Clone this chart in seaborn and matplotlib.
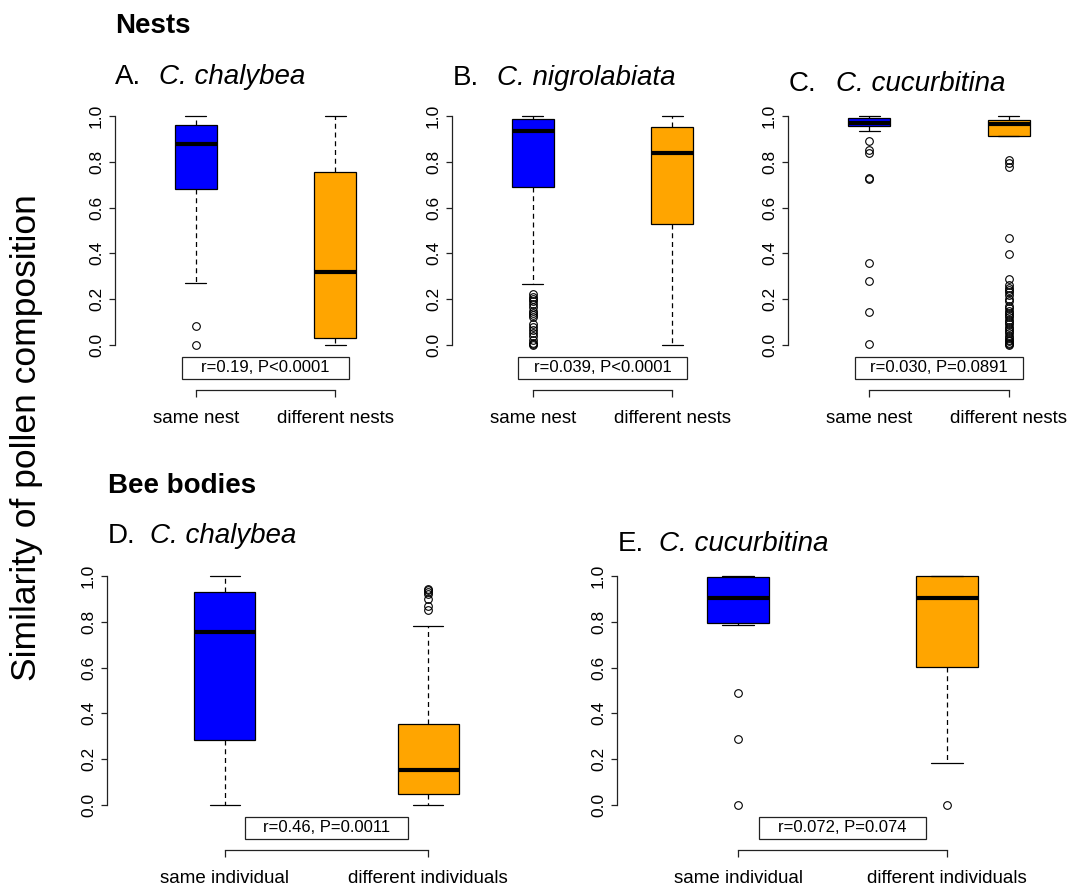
import matplotlib
matplotlib.use("Agg")
import matplotlib.pyplot as plt
import seaborn as sns
import pandas as pd
from matplotlib.patches import Rectangle

# figure size in pixels (dpi 100)
W, H = 1084, 888

nest_labels = ["same nest", "different nests"]
body_labels = ["same individual", "different individuals"]
box_colors = ["#0000FF", "#FFA500"]

# boxes: lower whisker, Q1, median, Q3, upper whisker
# plus the outlying points drawn as open circles

# A. C. chalybea, nests
a_same_box = [0.272, 0.680, 0.878, 0.961, 1.000]
a_same_out = [0.000, 0.083]
a_diff_box = [0.000, 0.028, 0.320, 0.755, 1.000]
a_diff_out = []

# B. C. nigrolabiata, nests
b_same_box = [0.265, 0.691, 0.934, 0.987, 1.000]
b_same_out = [0.000, 0.005, 0.010, 0.020, 0.040, 0.050, 0.065, 0.080, 0.090,
              0.120, 0.130, 0.140, 0.150, 0.165, 0.180, 0.190, 0.200, 0.210, 0.222]
b_diff_box = [0.000, 0.527, 0.838, 0.951, 1.000]
b_diff_out = []

# C. C. cucurbitina, nests
c_same_box = [0.936, 0.955, 0.972, 0.993, 1.000]
c_same_out = [0.003, 0.145, 0.279, 0.357, 0.726, 0.730, 0.837, 0.852, 0.893]
c_diff_box = [0.809, 0.915, 0.964, 0.985, 1.000]
c_diff_out = [0.000, 0.005, 0.010, 0.015, 0.020, 0.030, 0.040, 0.050, 0.060, 0.070,
              0.080, 0.090, 0.100, 0.110, 0.120, 0.130, 0.140, 0.150, 0.160, 0.170,
              0.190, 0.200, 0.220, 0.230, 0.240, 0.250, 0.260, 0.288, 0.398, 0.466,
              0.779, 0.793]

# D. C. chalybea, bee bodies
d_same_box = [0.000, 0.284, 0.754, 0.929, 1.000]
d_same_out = []
d_diff_box = [0.000, 0.047, 0.153, 0.354, 0.782]
d_diff_out = [0.850, 0.870, 0.900, 0.920, 0.930, 0.940, 0.945]

# E. C. cucurbitina, bee bodies
e_same_box = [0.788, 0.795, 0.905, 0.995, 1.000]
e_same_out = [0.000, 0.290, 0.490]
e_diff_box = [0.185, 0.602, 0.905, 1.000, 1.000]
e_diff_out = [0.000]

stat_texts = ["r=0.19, P<0.0001", "r=0.039, P<0.0001", "r=0.030, P=0.0891",
              "r=0.46, P=0.0011", "r=0.072, P=0.074"]


def build_sample(box, outliers):
    # sample whose quartiles / whiskers reproduce the drawn box
    lo, q1, med, q3, hi = box
    low = sorted(v for v in outliers if v < q1)
    high = sorted(v for v in outliers if v > q3)
    c = max(len(low), len(high)) + 1
    low = low + [lo] * (c - len(low))
    high = [hi] * (c - len(high)) + high
    return low + [q1] * c + [med] * c + [q3] * c + high


def px_axes(fig, left, right, top, bottom):
    return fig.add_axes([left / W, 1 - bottom / H, (right - left) / W, (bottom - top) / H])


def draw_panel(ax, labels, same, diff, stat, half_w):
    s = build_sample(*same)
    d = build_sample(*diff)
    df = pd.DataFrame({"group": [labels[0]] * len(s) + [labels[1]] * len(d),
                       "value": s + d})
    sns.boxplot(data=df, x="group", y="value", hue="group", order=labels,
                hue_order=labels, palette=box_colors, saturation=1, width=0.3,
                linecolor="black", linewidth=0.9, fliersize=5.5, legend=False,
                whiskerprops=dict(linestyle=(0, (4, 3))),
                medianprops=dict(color="black", linewidth=3),
                flierprops=dict(marker="o", markerfacecolor="none",
                                markeredgecolor="black", markeredgewidth=0.8),
                ax=ax)
    ax.set_xlim(-0.58, 1.58)
    ax.set_ylim(-0.04, 1.04)
    ax.set_xlabel("")
    ax.set_ylabel("")
    yt = [0, 0.2, 0.4, 0.6, 0.8, 1.0]
    ax.set_yticks(yt)
    ax.set_yticklabels([f"{v:.1f}" for v in yt], va="center")
    ax.set_xticks([0, 1])
    ax.set_xticklabels(labels)
    for side in ["top", "right"]:
        ax.spines[side].set_visible(False)
    ax.spines["left"].set_bounds(0, 1)
    ax.spines["bottom"].set_bounds(0, 1)
    ax.spines["bottom"].set_position(("outward", 26))
    for side in ["left", "bottom"]:
        ax.spines[side].set_color("#222222")
        ax.spines[side].set_linewidth(0.9)
    ax.tick_params(axis="y", length=4, width=0.9, pad=4, color="#222222",
                   labelsize=12.5, labelrotation=90)
    ax.tick_params(axis="x", length=5, width=0.9, pad=9.5, color="#222222",
                   labelsize=13.5)
    ax.add_patch(Rectangle((0.5 - half_w, -0.148), 2 * half_w, 0.096,
                           facecolor="white", edgecolor="#222222", linewidth=0.9,
                           clip_on=False, zorder=5))
    ax.text(0.5, -0.100, stat, ha="center", va="center", fontsize=12,
            clip_on=False, zorder=6)


sns.set_style("ticks")
plt.rcParams["font.family"] = ["Liberation Sans", "DejaVu Sans"]
plt.rcParams["text.color"] = "black"
plt.rcParams["xtick.color"] = "black"
plt.rcParams["ytick.color"] = "black"

fig = plt.figure(figsize=(W / 100, H / 100), dpi=100)

panels = [
    # labels, same, diff, axes px (l, r, t, b), stat box half width, title
    (nest_labels, (a_same_box, a_same_out), (a_diff_box, a_diff_out),
     (115, 416, 107, 354), 0.60, ("A.", "C. chalybea", 115, 159, 84)),
    (nest_labels, (b_same_box, b_same_out), (b_diff_box, b_diff_out),
     (452, 753, 107, 354), 0.605, ("B.", "C. nigrolabiata", 453, 497, 85)),
    (nest_labels, (c_same_box, c_same_out), (c_diff_box, c_diff_out),
     (788, 1090, 107, 354), 0.60, ("C.", "C. cucurbitina", 789, 836, 91)),
    (body_labels, (d_same_box, d_same_out), (d_diff_box, d_diff_out),
     (107, 546, 567, 814), 0.40, ("D.", "C. chalybea", 108, 150, 543)),
    (body_labels, (e_same_box, e_same_out), (e_diff_box, e_diff_out),
     (617, 1068, 567, 814), 0.40, ("E.", "C. cucurbitina", 618, 659, 551)),
]

for (labels, same, diff, rect, half_w, title), stat in zip(panels, stat_texts):
    ax = px_axes(fig, *rect)
    draw_panel(ax, labels, same, diff, stat, half_w)
    letter, species, x_letter, x_species, y_base = title
    fig.text(x_letter / W, 1 - y_base / H, letter, fontsize=20, va="baseline")
    fig.text(x_species / W, 1 - y_base / H, species, fontsize=20, style="italic",
             va="baseline")

fig.text(115 / W, 1 - 33 / H, "Nests", fontsize=20, fontweight="bold", va="baseline")
fig.text(108 / W, 1 - 493 / H, "Bee bodies", fontsize=20, fontweight="bold",
         va="baseline")
fig.text(27 / W, 1 - 438 / H, "Similarity of pollen composition", rotation=90,
         ha="center", va="center", fontsize=25.5)

fig.savefig("out.png", dpi=100)
